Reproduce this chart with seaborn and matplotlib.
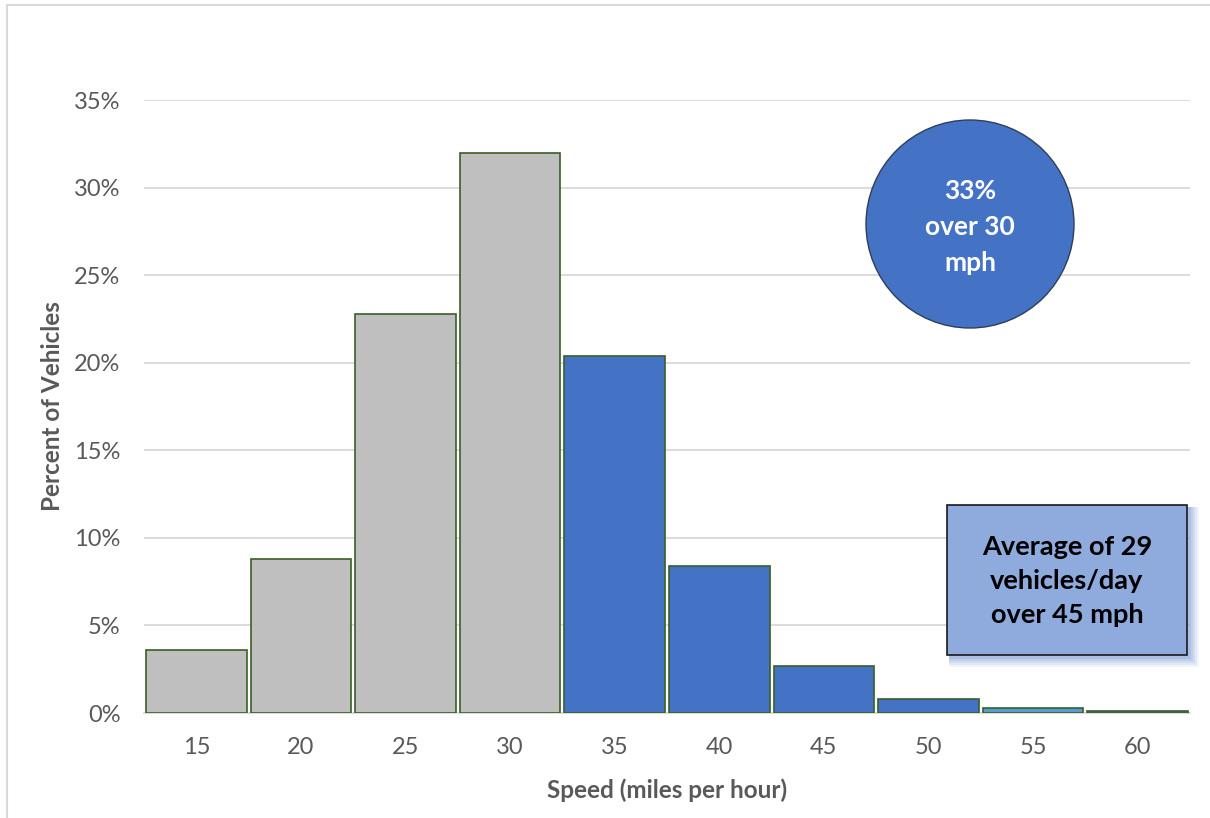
import matplotlib
matplotlib.use("Agg")
import matplotlib.pyplot as plt
import matplotlib.patches as mpatches
from matplotlib.ticker import PercentFormatter, FixedLocator
import numpy as np
import pandas as pd
import seaborn as sns

# Speed distribution (percent of vehicles per 5 mph bin)
speeds = ["15", "20", "25", "30", "35", "40", "45", "50", "55", "60"]
percent = [3.6, 8.8, 22.8, 32.0, 20.4, 8.4, 2.7, 0.8, 0.3, 0.1]
bar_colors = ["#BFBFBF", "#BFBFBF", "#BFBFBF", "#BFBFBF",
              "#4472C4", "#4472C4", "#4472C4", "#4472C4", "#5B9BD5", "#4472C4"]
y_ticks = [0, 5, 10, 15, 20, 25, 30, 35]

circle_text = "33%\nover 30\nmph"
box_text = "Average of 29\nvehicles/day\nover 45 mph"

sns.set_theme(style="white")
plt.rcParams["font.family"] = ["Lato", "DejaVu Sans"]

W, H = 1210, 818
fig = plt.figure(figsize=(W / 100, H / 100), dpi=100)
ax = fig.add_axes([144 / W, 105 / H, (1190 - 144) / W, (713 - 100) / H])

df = pd.DataFrame({"speed": speeds, "percent": percent})
sns.barplot(data=df, x="speed", y="percent", hue="speed", palette=bar_colors,
            legend=False, width=0.96, edgecolor="#3A5F28", linewidth=1.2,
            saturation=1, ax=ax, zorder=3)

ax.set_ylim(0, 35)
ax.set_xlim(-0.5, len(speeds) - 0.5)
ax.yaxis.set_major_locator(FixedLocator(y_ticks))
ax.yaxis.set_major_formatter(PercentFormatter(decimals=0))
ax.grid(axis="y", color="#D9D9D9", linewidth=1.3, zorder=0)
ax.set_axisbelow(True)
for s in ["top", "right", "left"]:
    ax.spines[s].set_visible(False)
ax.spines["bottom"].set_color("#D9D9D9")
ax.spines["bottom"].set_linewidth(1.3)
ax.tick_params(axis="both", length=0, labelsize=17, labelcolor="#595959")
ax.tick_params(axis="x", pad=17)
ax.tick_params(axis="y", pad=17)

ax.set_xlabel("Speed (miles per hour)", fontsize=17.5, fontweight="bold",
              color="#595959", labelpad=15)
ax.set_ylabel("Percent of Vehicles", fontsize=17.5, fontweight="bold",
              color="#595959", labelpad=7)

# Outer chart frame (left and top edges visible)
fig.add_artist(mpatches.Rectangle((7 / W, -0.05), 1.1, (H - 5) / H + 0.05,
                                  transform=fig.transFigure, fill=False,
                                  edgecolor="#D9D9D9", linewidth=1.5))

# Callout circle
cx, cy, r = 970, 224, 104
fig.add_artist(mpatches.Ellipse((cx / W, 1 - cy / H), 2 * r / W, 2 * r / H,
                                transform=fig.transFigure, facecolor="#4472C4",
                                edgecolor="#2F3E5C", linewidth=1.0, zorder=5))
fig.text(cx / W, 1 - (cy + 3) / H, circle_text, ha="center", va="center",
         color="white", fontsize=19, fontweight="bold", linespacing=1.58,
         zorder=6)

# Callout box with soft shadow
bx0, by0, bx1, by1 = 947, 505, 1187, 655
for i, a in enumerate([0.10, 0.13, 0.17, 0.22, 0.28]):
    off = 7 - i
    grow = 5 - i
    fig.add_artist(mpatches.Rectangle(((bx0 + off - grow) / W, 1 - (by1 + off + grow) / H),
                                      (bx1 - bx0 + 2 * grow) / W,
                                      (by1 - by0 + 2 * grow) / H,
                                      transform=fig.transFigure, facecolor="#7F9FD8",
                                      edgecolor="none", alpha=a, zorder=5))
fig.add_artist(mpatches.Rectangle((bx0 / W, 1 - by1 / H), (bx1 - bx0) / W,
                                  (by1 - by0) / H, transform=fig.transFigure,
                                  facecolor="#8FAADC", edgecolor="#1A1A1A",
                                  linewidth=1.2, zorder=6))
fig.text((bx0 + bx1) / 2 / W, 1 - (by0 + by1 + 2) / 2 / H, box_text, ha="center",
         va="center", color="black", fontsize=19.5, fontweight="bold",
         linespacing=1.52, zorder=7)

fig.savefig("out.png", dpi=100, facecolor="white")
